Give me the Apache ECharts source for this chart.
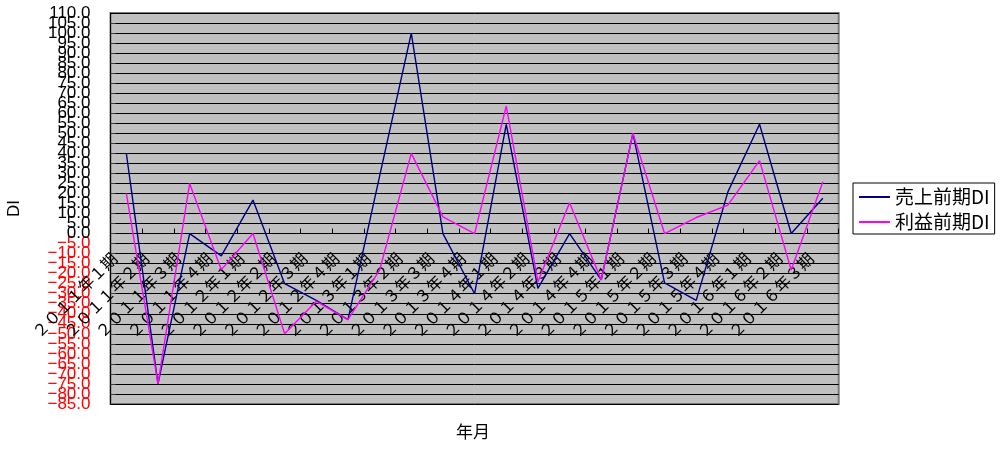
<!DOCTYPE html>
<html>
<head>
<meta charset="utf-8">
<script src="https://cdn.jsdelivr.net/npm/echarts@6/dist/echarts.min.js"></script>
<style>
  html, body { margin: 0; padding: 0; background: #ffffff; }
  #chart { width: 1000px; height: 453px; }
</style>
</head>
<body>
<div id="chart"></div>
<script>
// Quarter labels (full-width digits)
var categories = [
  '２０１１年１期', '２０１１年２期', '２０１１年３期', '２０１１年４期',
  '２０１２年１期', '２０１２年２期', '２０１２年３期', '２０１２年４期',
  '２０１３年１期', '２０１３年２期', '２０１３年３期', '２０１３年４期',
  '２０１４年１期', '２０１４年２期', '２０１４年３期', '２０１４年４期',
  '２０１５年１期', '２０１５年２期', '２０１５年３期', '２０１５年４期',
  '２０１６年１期', '２０１６年２期', '２０１６年３期'
];

// 売上前期DI
var salesDI = [
  40.0, -75.0, 0.0, -11.1, 16.7, -25.0, -33.3, -42.9,
  28.6, 100.0, 0.0, -30.0, 54.5, -27.3, 0.0, -23.1,
  50.0, -24.6, -33.3, 20.8, 54.5, 0.0, 17.6
];

// 利益前期DI
var profitDI = [
  20.0, -75.0, 25.0, -18.0, 0.0, -50.0, -33.8, -42.9,
  -18.2, 40.0, 8.3, 0.0, 63.6, -24.0, 15.4, -23.1,
  50.0, 0.0, 8.0, 14.2, 36.4, -18.2, 25.8
];

// Value axis range and step
var yMin = -85, yMax = 110, yStep = 5;

var seriesNames = ['売上前期DI', '利益前期DI'];

// Plot box
var gridTop = 13, gridBottom = 49, chartHeight = 453;
var plotHeight = chartHeight - gridTop - gridBottom;
// Category axis sits on the value-axis zero line
var zeroOffset = -(0 - yMin) / (yMax - yMin) * plotHeight;

function fmtValue(v) {
  var s = Math.abs(v).toFixed(1);
  return v < 0 ? '\u2212' + s : s;
}
function valueColor(v) {
  return Number(v) < 0 ? '#ff0000' : '#000000';
}

var labelFont = {
  margin: 20,
  hideOverlap: false,
  fontFamily: 'Liberation Sans',
  fontSize: 17,
  color: valueColor
};

var chart = echarts.init(document.getElementById('chart'), null, { renderer: 'canvas' });

chart.setOption({
  animation: false,
  backgroundColor: '#ffffff',
  grid: {
    left: 110.5,
    right: 161.3,
    top: gridTop,
    bottom: gridBottom,
    outerBoundsMode: 'none',
    containLabel: false,
    show: true,
    backgroundColor: '#c0c0c0',
    borderColor: '#7a7a7a',
    borderWidth: 2
  },
  legend: {
    orient: 'vertical',
    left: 853,
    top: 183,
    data: seriesNames,
    icon: 'rect',
    itemWidth: 31,
    itemHeight: 2,
    itemGap: 5,
    padding: [4, 5, 2, 6],
    borderColor: '#000000',
    borderWidth: 1,
    backgroundColor: '#ffffff',
    textStyle: {
      fontFamily: 'Noto Sans CJK JP',
      fontSize: 19,
      lineHeight: 20,
      color: '#000000'
    }
  },
  xAxis: {
    type: 'category',
    data: categories,
    boundaryGap: true,
    offset: zeroOffset,
    axisLine: { onZero: false, lineStyle: { color: '#000000', width: 1 } },
    axisTick: { show: true, inside: true, length: 5, lineStyle: { color: '#000000' } },
    axisLabel: {
      interval: 0,
      rotate: 45,
      margin: 10,
      padding: [0, 17, 0, 0],
      hideOverlap: false,
      fontFamily: 'Noto Sans CJK JP',
      fontSize: 16,
      color: '#000000'
    },
    splitLine: { show: false }
  },
  yAxis: [
    {
      // main value axis: line, ticks, grid lines and the inner labels
      type: 'value',
      min: yMin,
      max: yMax,
      interval: yStep,
      name: 'DI',
      nameLocation: 'middle',
      nameRotate: 90,
      nameGap: 88,
      nameTextStyle: {
        fontFamily: 'Liberation Sans',
        fontSize: 17,
        color: '#000000'
      },
      axisLine: { show: true, lineStyle: { color: '#000000', width: 1 } },
      axisTick: { show: true, inside: true, length: 5, lineStyle: { color: '#404040' } },
      axisLabel: Object.assign({}, labelFont, {
        showMinLabel: false,
        showMaxLabel: false,
        formatter: fmtValue
      }),
      splitLine: { show: true, lineStyle: { color: '#000000', width: 1 } }
    },
    {
      // companion axis carrying only the end labels (min and max)
      type: 'value',
      position: 'left',
      min: yMin,
      max: yMax,
      interval: yStep,
      axisLine: { show: false },
      axisTick: { show: false },
      splitLine: { show: false },
      axisLabel: Object.assign({}, labelFont, {
        showMinLabel: true,
        showMaxLabel: true,
        formatter: function (v) {
          return (v === yMin || v === yMax) ? fmtValue(v) : '';
        }
      })
    }
  ],
  graphic: [
    {
      type: 'text',
      left: 456,
      top: 423,
      style: {
        text: '年月',
        fontFamily: 'Noto Sans CJK JP',
        fontSize: 17,
        fill: '#000000'
      }
    }
  ],
  series: [
    {
      name: seriesNames[0],
      type: 'line',
      yAxisIndex: 0,
      data: salesDI,
      symbol: 'none',
      showSymbol: false,
      itemStyle: { color: '#000080' },
      lineStyle: { color: '#000080', width: 1.4 }
    },
    {
      name: seriesNames[1],
      type: 'line',
      yAxisIndex: 0,
      data: profitDI,
      symbol: 'none',
      showSymbol: false,
      itemStyle: { color: '#ff00ff' },
      lineStyle: { color: '#ff00ff', width: 1.4 }
    }
  ]
});
</script>
</body>
</html>
